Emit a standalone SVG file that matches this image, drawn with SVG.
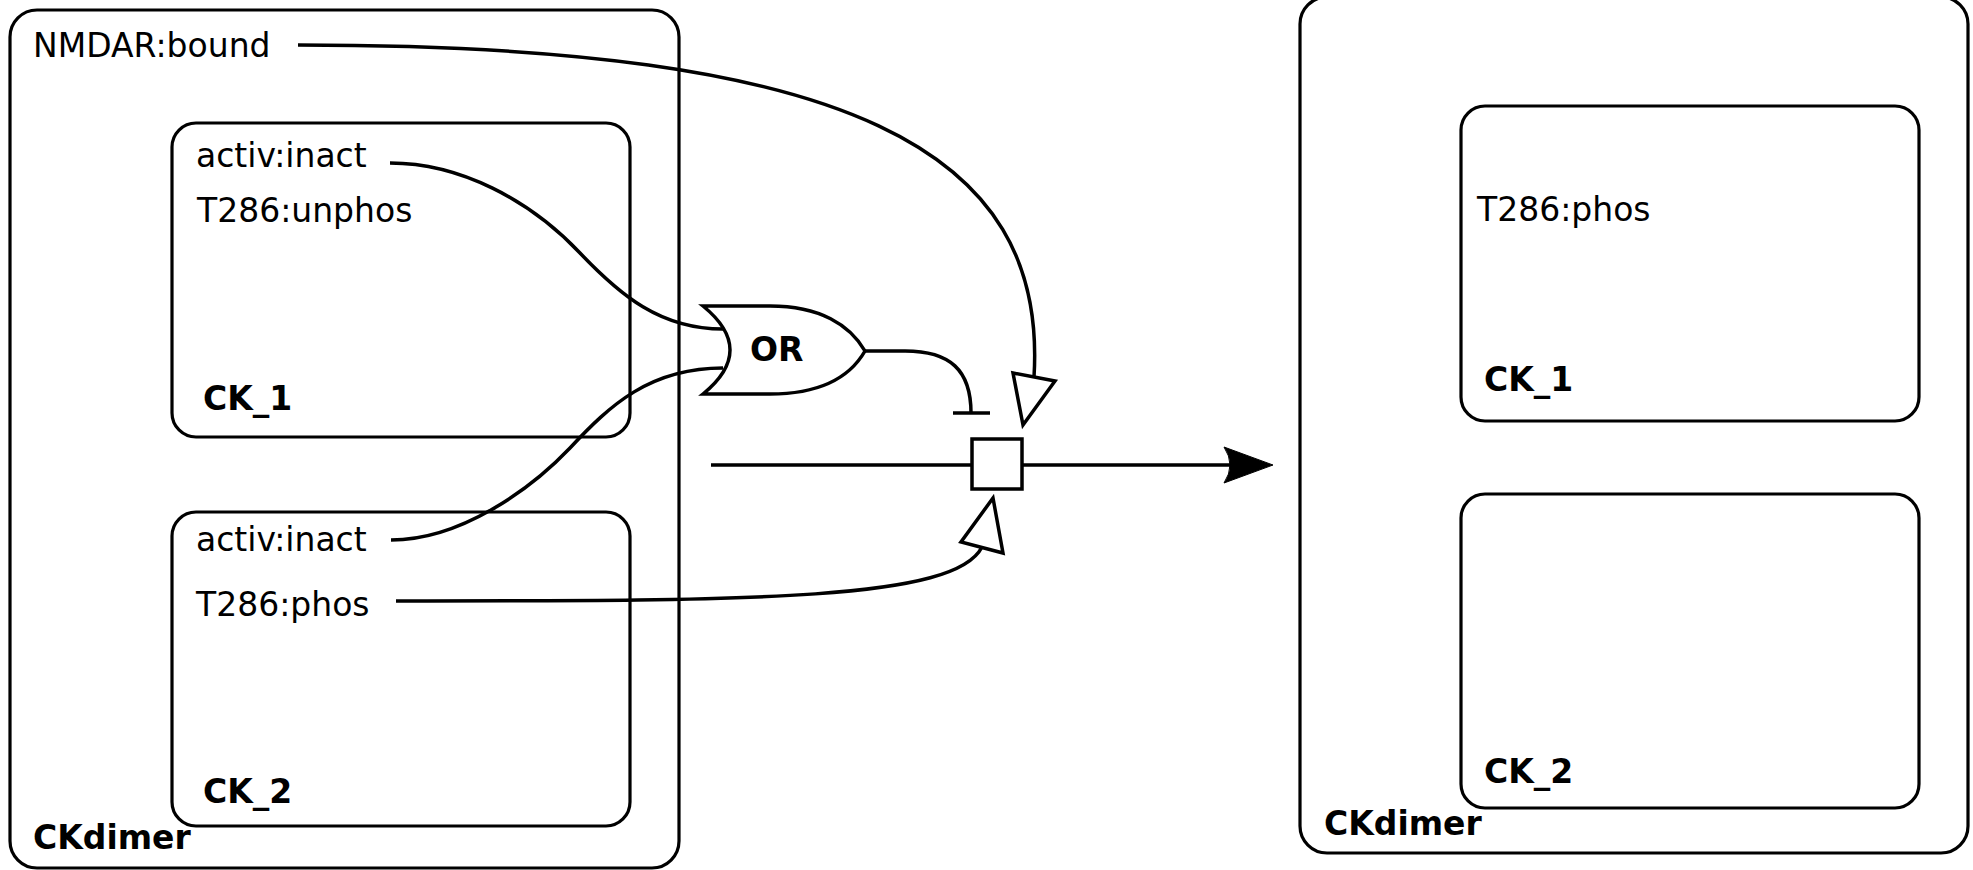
<svg xmlns="http://www.w3.org/2000/svg" width="1973" height="870" viewBox="0 0 1973 870">
  <defs>
    <style>
      .box { fill: none; stroke: #000; stroke-width: 3.2; }
      .conn { fill: none; stroke: #000; stroke-width: 3.5; }
      .hollow { fill: #fff; stroke: #000; stroke-width: 3.5; stroke-linejoin: miter; }
      .lbl { font-family: 'DejaVu Sans', 'Noto Sans', sans-serif; font-size: 33px; fill: #000; }
      .name { font-family: 'DejaVu Sans', 'Noto Sans', sans-serif; font-size: 33px; font-weight: bold; fill: #000; }
    </style>
  </defs>
  <rect width="1973" height="870" fill="#fff"/>

  <g id="left-CKdimer">
    <rect class="box" x="10" y="10" width="669" height="858" rx="27" ry="27"/>
    <text class="lbl" x="33" y="57">NMDAR:bound</text>
    <text class="name" x="33" y="849">CKdimer</text>
  </g>
  <g id="left-CK_1">
    <rect class="box" x="172" y="123" width="458" height="314" rx="24" ry="24"/>
    <text class="lbl" x="196" y="167">activ:inact</text>
    <text class="lbl" x="197" y="222">T286:unphos</text>
    <text class="name" x="203" y="410">CK_1</text>
  </g>
  <g id="left-CK_2">
    <rect class="box" x="172" y="512" width="458" height="314" rx="24" ry="24"/>
    <text class="lbl" x="196" y="551">activ:inact</text>
    <text class="lbl" x="196" y="616">T286:phos</text>
    <text class="name" x="203" y="803">CK_2</text>
  </g>

  <g id="right-CKdimer">
    <rect class="box" x="1300" y="-3" width="668" height="856" rx="27" ry="27"/>
    <text class="name" x="1324" y="835">CKdimer</text>
  </g>
  <g id="right-CK_1">
    <rect class="box" x="1461" y="106" width="458" height="315" rx="24" ry="24"/>
    <text class="lbl" x="1477" y="221">T286:phos</text>
    <text class="name" x="1484" y="391">CK_1</text>
  </g>
  <g id="right-CK_2">
    <rect class="box" x="1461" y="494" width="458" height="314" rx="24" ry="24"/>
    <text class="name" x="1484" y="783">CK_2</text>
  </g>

  <g id="connectors">
    <path class="conn" d="M 298 45 C 851 45, 1048 150, 1034 377"/>
    <path class="conn" d="M 390 163 C 460 163, 530 200, 580 253 C 620 295, 660 329, 723 329"/>
    <path class="conn" d="M 391 540 C 460 540, 530 490, 570 448 C 610 405, 650 368, 723 368"/>
    <path class="conn" d="M 396 601 C 760 601, 955 600, 982 547"/>
    <path class="conn" d="M 865 351 L 905 351 C 950 351, 971 370, 971 413"/>
    <path class="conn" d="M 953 413 L 990 413"/>
    <path class="conn" d="M 711 465 L 972 465 M 1022 465 L 1232 465"/>
    <path d="M 1273 465 L 1224 447 Q 1236 465 1224 483 Z" fill="#000" stroke="#000" stroke-width="1"/>
    <polygon class="hollow" points="1013,373 1055,381 1023,425"/>
    <polygon class="hollow" points="993,498 961,542 1003,553"/>
  </g>

  <g id="or-gate">
    <path class="hollow" d="M 703 306 L 770 306 C 820 306, 850 325, 865 351 C 850 377, 820 394, 770 394 L 703 394 Q 757 350 703 306 Z"/>
    <text class="name" x="750" y="361">OR</text>
  </g>

  <g id="process">
    <rect class="hollow" x="972" y="439" width="50" height="50"/>
  </g>
</svg>
